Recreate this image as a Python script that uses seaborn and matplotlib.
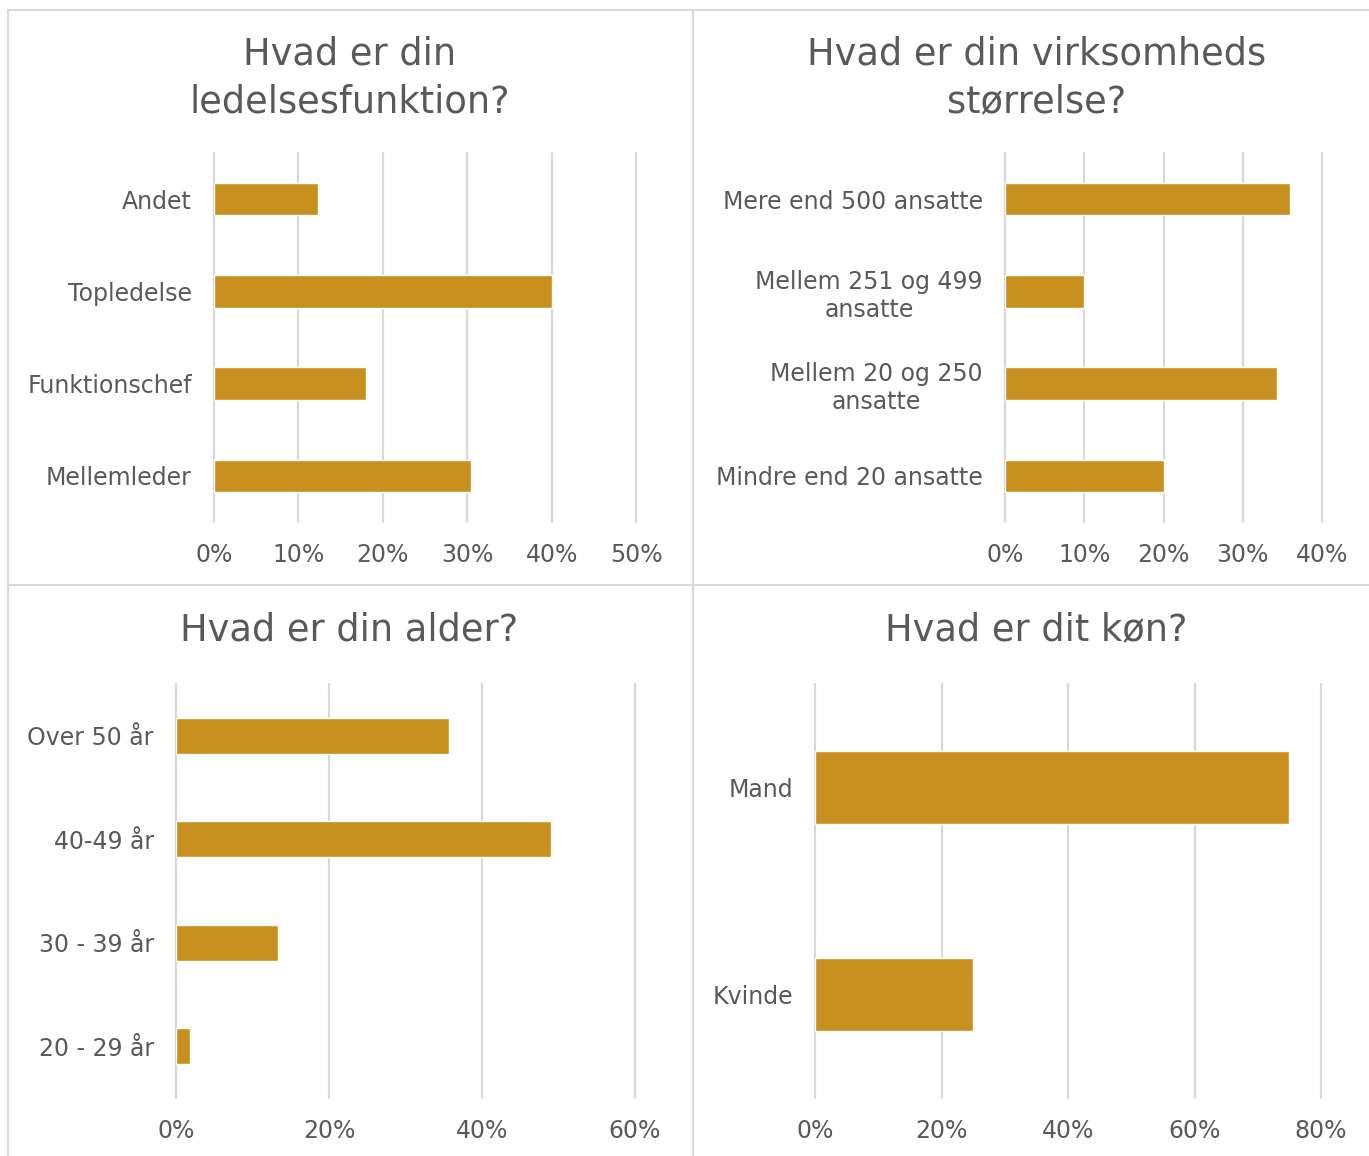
import matplotlib
matplotlib.use('Agg')
import matplotlib.pyplot as plt
import seaborn as sns
import pandas as pd
from matplotlib.lines import Line2D
from matplotlib.ticker import PercentFormatter

# ---------------- data ----------------
lead_cats = ['Andet', 'Topledelse', 'Funktionschef', 'Mellemleder']
lead_vals = [12.3, 40.0, 18.0, 30.5]
lead_ticks = [0, 10, 20, 30, 40, 50]

size_cats = ['Mere end 500 ansatte', 'Mellem 251 og 499\nansatte',
             'Mellem 20 og 250\nansatte', 'Mindre end 20 ansatte']
size_vals = [36.0, 10.0, 34.3, 20.0]
size_ticks = [0, 10, 20, 30, 40]

age_cats = ['Over 50 år', '40-49 år', '30 - 39 år', '20 - 29 år']
age_vals = [35.7, 49.0, 13.3, 1.8]
age_ticks = [0, 20, 40, 60]

gender_cats = ['Mand', 'Kvinde']
gender_vals = [75.0, 25.0]
gender_ticks = [0, 20, 40, 60, 80]

titles = ['Hvad er din\nledelsesfunktion?', 'Hvad er din virksomheds\nstørrelse?',
          'Hvad er din alder?', 'Hvad er dit køn?']

# ---------------- style ----------------
sns.set_theme(style='white')
plt.rcParams['font.family'] = ['DejaVu Sans']

W, H = 1369, 1156
fig = plt.figure(figsize=(W / 100, H / 100), dpi=100)
fig.patch.set_facecolor('white')

BAR = '#C8901F'
GRID = '#D9D9D9'
TXT = '#595959'


def px_axes(l, r, t, b):
    return fig.add_axes([l / W, 1 - b / H, (r - l) / W, (b - t) / H])


panels = [
    (lead_cats, lead_vals, lead_ticks, (214, 636, 153, 522), (350, 78)),
    (size_cats, size_vals, size_ticks, (1005, 1322, 153, 522), (1037, 78)),
    (age_cats, age_vals, age_ticks, (176, 635, 684, 1098), (349, 630)),
    (gender_cats, gender_vals, gender_ticks, (815, 1321, 684, 1098), (1036, 630)),
]

for (cats, vals, ticks, box, tpos), title in zip(panels, titles):
    ax = px_axes(*box)
    df = pd.DataFrame({'cat': cats, 'val': vals})
    sns.barplot(data=df, x='val', y='cat', ax=ax, color=BAR, saturation=1,
                width=0.35, orient='h', errorbar=None)
    ax.set_xlim(ticks[0], ticks[-1])
    ax.set_ylim(len(cats) - 0.5, -0.5)
    ax.set_xticks(ticks)
    ax.xaxis.set_major_formatter(PercentFormatter(decimals=0))
    ax.set_xlabel('')
    ax.set_ylabel('')
    ax.grid(axis='x', color=GRID, linewidth=1.6)
    ax.grid(axis='y', visible=False)
    ax.set_axisbelow(True)
    for s in ax.spines.values():
        s.set_visible(False)
    ax.tick_params(axis='both', length=0, labelsize=17, labelcolor=TXT)
    ax.tick_params(axis='y', pad=16)
    ax.tick_params(axis='x', pad=15)
    for lab in ax.get_yticklabels():
        lab.set_multialignment('center')
    for gl in ax.get_xgridlines():
        gl.set_clip_on(False)
    ax.set_facecolor('none')
    fig.text(tpos[0] / W, 1 - tpos[1] / H, title, ha='center', va='center',
             fontsize=26.5, color=TXT, linespacing=1.35)

# panel borders
def hline(y, x0, x1):
    fig.add_artist(Line2D([x0 / W, x1 / W], [1 - y / H, 1 - y / H], color=GRID, lw=1.5))

def vline(x, y0, y1):
    fig.add_artist(Line2D([x / W, x / W], [1 - y0 / H, 1 - y1 / H], color=GRID, lw=1.5))

hline(10, 8, W)
hline(585, 8, W)
vline(8, 10, H)
vline(693, 10, H)

fig.savefig('out.png', dpi=100, facecolor='white')
